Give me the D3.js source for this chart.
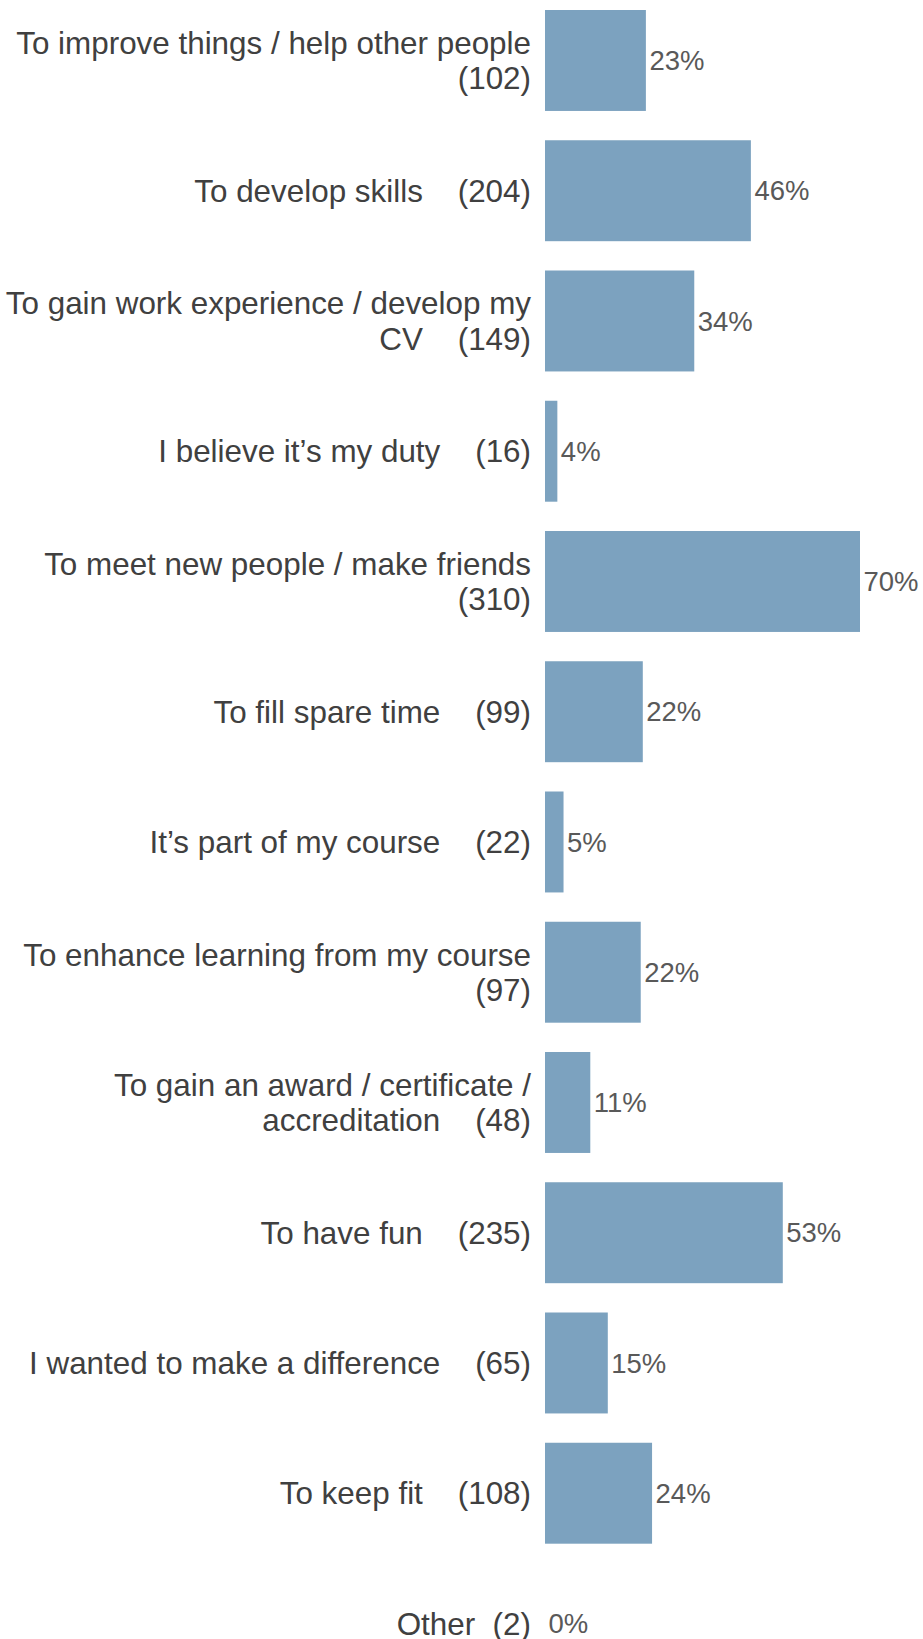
<!DOCTYPE html>
<html>
<head>
<meta charset="utf-8">
<script src="https://cdn.jsdelivr.net/npm/d3@7/dist/d3.min.js"></script>
<style>
  html, body { margin: 0; padding: 0; background: #ffffff; }
  svg { display: block; }
  text { font-family: "Liberation Sans", Arial, sans-serif; white-space: pre; }
</style>
</head>
<body>
<div id="chart"></div>
<script>
// ---- data ----
const categories = [
  "To improve things / help other people\n",
  "To develop skills",
  "To gain work experience / develop my\nCV",
  "I believe it\u2019s my duty",
  "To meet new people / make friends\n",
  "To fill spare time",
  "It\u2019s part of my course",
  "To enhance learning from my course\n",
  "To gain an award / certificate /\naccreditation",
  "To have fun",
  "I wanted to make a difference",
  "To keep fit",
  "Other"
];
const counts   = [102, 204, 149, 16, 310, 99, 22, 97, 48, 235, 65, 108, 2];
const percents = [23, 46, 34, 4, 70, 22, 5, 22, 11, 53, 15, 24, 0];
const countSeparators = ["", "    ", "    ", "    ", "", "    ", "    ", "", "    ", "    ", "    ", "    ", "  "];
const axisMin = 4;   // value axis does not start at zero
const axisMax = 310;

// ---- layout ----
const W = 923, H = 1639;
const barLeft = 545, barRightMax = 860;
const labelRight = 531;
const catFont = 31.4, pctFont = 27.5, lineH = 35.7;
const step = 130.25, pIn = 0.225, pOut = 0.1125;
const y0 = 10 - pOut * step;

const svg = d3.select("#chart").append("svg")
  .attr("width", W).attr("height", H);

const x = d3.scaleLinear().domain([axisMin, axisMax]).range([barLeft, barRightMax]);
const y = d3.scaleBand()
  .domain(d3.range(categories.length))
  .range([y0, y0 + step * categories.length])
  .paddingInner(pIn)
  .paddingOuter(pOut);

const rows = categories.map((c, i) => {
  const parts = c.split("\n");
  const last = parts.length - 1;
  const cnt = "(" + counts[i] + ")";
  parts[last] = parts[last] === "" ? cnt : parts[last] + countSeparators[i] + cnt;
  return { i, lines: parts, count: counts[i], pct: percents[i] };
});

const g = svg.append("g");

// bars
g.selectAll("rect.bar").data(rows).join("rect")
  .attr("class", "bar")
  .attr("x", x(axisMin))
  .attr("y", d => y(d.i))
  .attr("width", d => Math.max(0, x(d.count) - x(axisMin)))
  .attr("height", y.bandwidth())
  .attr("fill", "#7ca2bf");

// category labels
const lab = g.selectAll("text.cat").data(rows).join("text")
  .attr("class", "cat")
  .attr("text-anchor", "end")
  .attr("font-size", catFont)
  .attr("fill", "#404040");
lab.each(function(d) {
  const cy = y(d.i) + y.bandwidth() / 2;
  const n = d.lines.length;
  d3.select(this).selectAll("tspan").data(d.lines).join("tspan")
    .attr("x", labelRight)
    .attr("y", (t, k) => cy + (k - (n - 1) / 2) * lineH + 0.355 * catFont)
    .text(t => t);
});

// percent labels
g.selectAll("text.pct").data(rows).join("text")
  .attr("class", "pct")
  .attr("x", d => Math.max(x(axisMin), x(d.count)) + 3.5)
  .attr("y", d => y(d.i) + y.bandwidth() / 2 + 0.355 * pctFont)
  .attr("font-size", pctFont)
  .attr("fill", "#595959")
  .text(d => d.pct + "%");
</script>
</body>
</html>
